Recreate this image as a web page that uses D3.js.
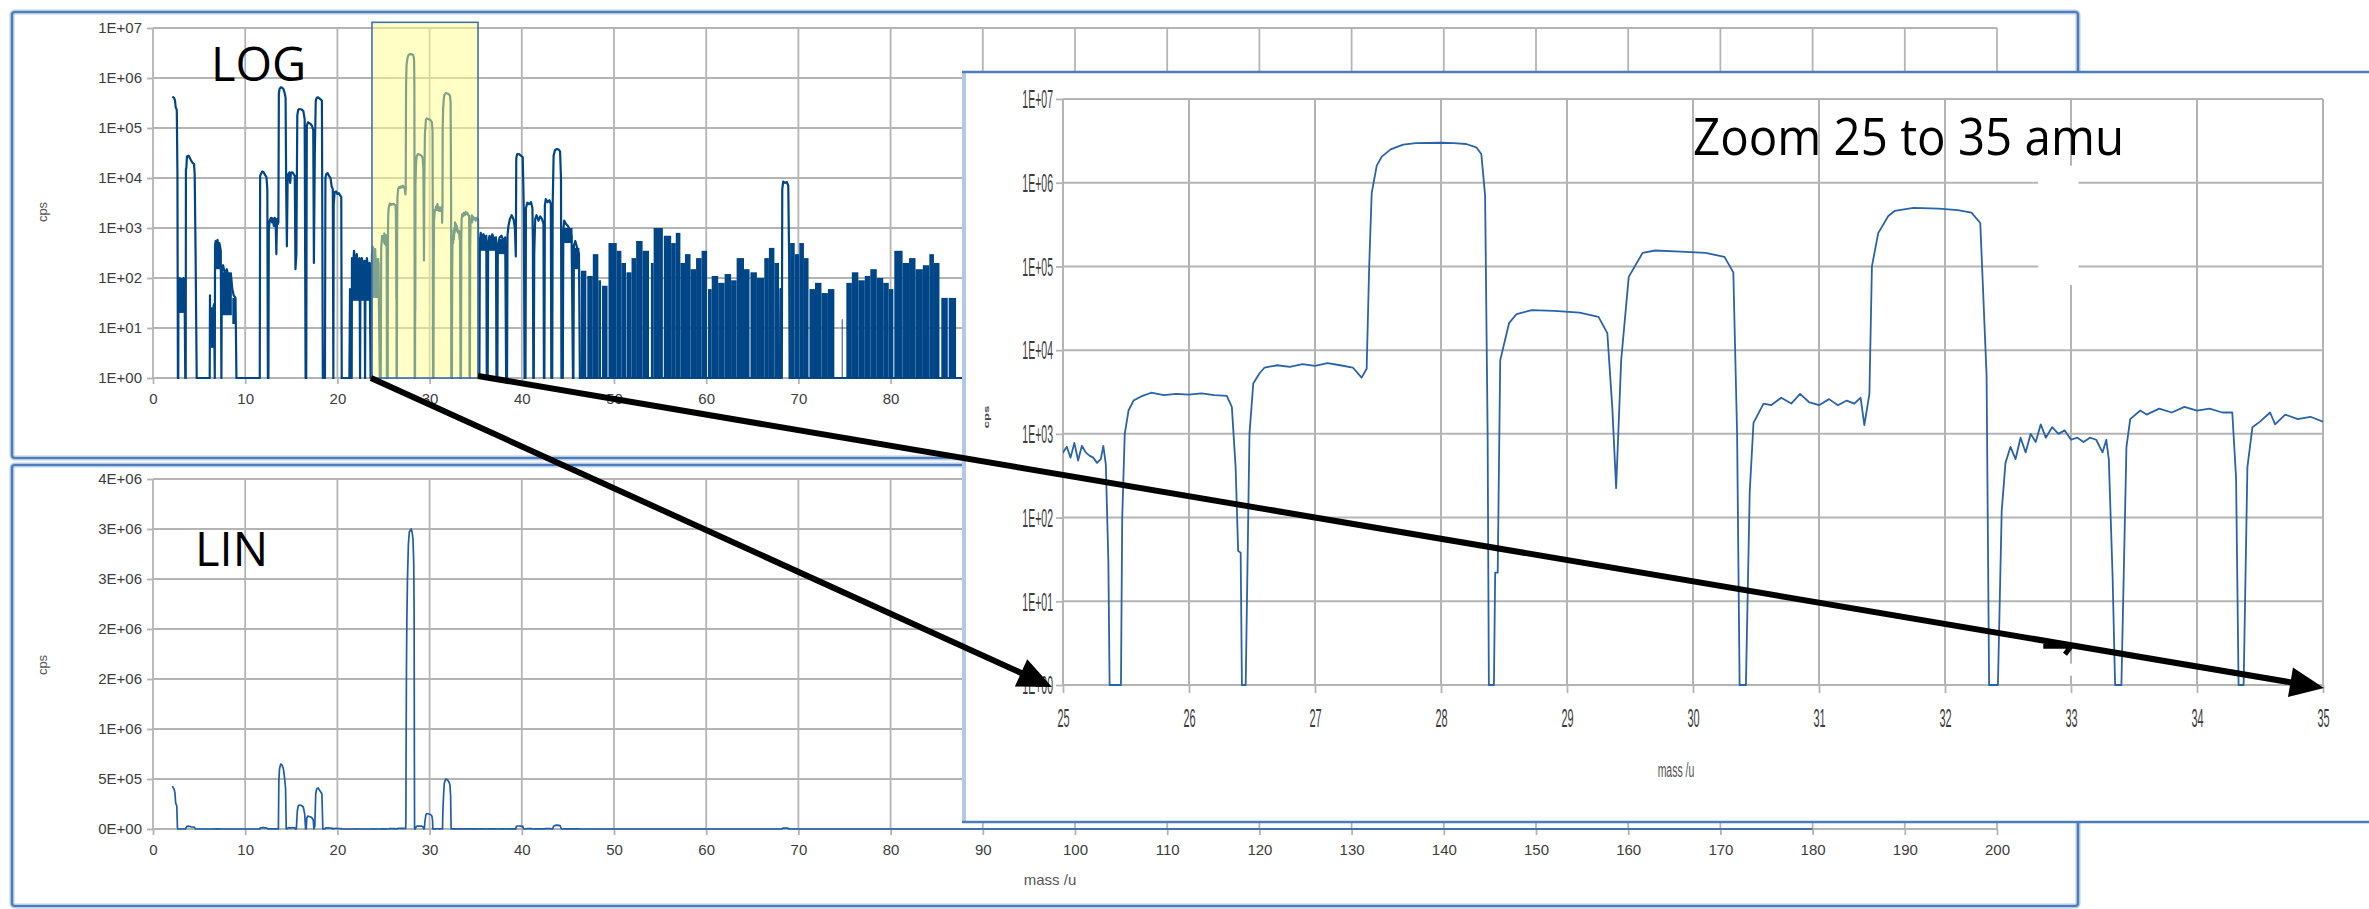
<!DOCTYPE html>
<html>
<head>
<meta charset="utf-8">
<script src="https://cdn.jsdelivr.net/npm/d3@7"></script>
<style>
  body { margin: 0; background: #fff; }
  svg { display: block; }
</style>
</head>
<body>
<svg id="chart" width="2369" height="909"></svg>
<script>
// ---- data ----
// mass scan: [mass (u), counts per second]; 1 cps sits on the bottom of the log axis
const spectrum = [
  [2.12, 4.3e5], [2.2, 4.1e5], [2.28, 4.0e5], [2.38, 3.6e5], [2.46, 2.6e5], [2.58, 2.3e5], [2.65, 1.2e4], [2.7, 1],
  [2.74, 1], [2.76, 90], [2.82, 40], [2.9, 100], [3.0, 60], [3.1, 95], [3.2, 50], [3.3, 100], [3.42, 70], [3.5, 1],
  [3.55, 1], [3.57, 1.5e4], [3.62, 1.6e4], [3.68, 2.7e4], [3.85, 2.8e4], [4.0, 2.5e4], [4.15, 2.2e4], [4.3, 2.0e4],
  [4.45, 1.9e4], [4.52, 1.2e4], [4.62, 300], [4.74, 1],
  [6.15, 1], [6.18, 45], [6.21, 5], [6.3, 25], [6.45, 20], [6.62, 30], [6.7, 1], [6.73, 450], [6.8, 550], [6.9, 400],
  [7.0, 580], [7.1, 420], [7.2, 500], [7.35, 350], [7.42, 1], [7.47, 150], [7.6, 180], [7.8, 120], [8.0, 150],
  [8.2, 110], [8.45, 120], [8.6, 60], [8.75, 45], [8.95, 40], [9.05, 1],
  [11.58, 1], [11.62, 1.1e4], [11.7, 1.2e4], [11.85, 1.35e4], [12.0, 1.3e4], [12.15, 1.15e4], [12.3, 1.05e4],
  [12.4, 6e3], [12.46, 1], [12.52, 1], [12.56, 900], [12.65, 1400], [12.8, 1600], [12.9, 1300], [13.0, 1550],
  [13.1, 1100], [13.2, 1600], [13.3, 1400], [13.38, 300], [13.45, 1500], [13.55, 1200], [13.6, 1300],
  [13.65, 4.8e5], [13.72, 6.0e5], [13.85, 6.5e5], [14.0, 6.4e5], [14.15, 6.0e5], [14.28, 5.0e5], [14.38, 4.0e5],
  [14.45, 5e3], [14.52, 430], [14.6, 8e3], [14.68, 1.2e4], [14.8, 1.3e4], [14.88, 8e3], [14.95, 1.25e4],
  [15.1, 1.3e4], [15.25, 1.2e4], [15.38, 1.1e4], [15.45, 150], [15.55, 300],
  [15.65, 1.8e5], [15.75, 2.3e5], [15.9, 2.4e5], [16.1, 2.35e5], [16.3, 2.2e5], [16.45, 1.5e5], [16.55, 1],
  [16.62, 1], [16.68, 1.1e5], [16.8, 1.3e5], [16.95, 1.25e5], [17.1, 1.2e5], [17.25, 1.1e5], [17.38, 9e4],
  [17.45, 200], [17.55, 3e4], [17.65, 3.5e5], [17.75, 4.0e5], [17.9, 4.1e5], [18.05, 3.9e5], [18.2, 3.7e5],
  [18.32, 3.5e5], [18.42, 1],
  [18.65, 1], [18.7, 1e4], [18.8, 1.2e4], [18.95, 1.25e4], [19.1, 1.1e4], [19.25, 1.0e4], [19.38, 6.8e3],
  [19.5, 6e3], [19.56, 1], [19.6, 3e3], [19.7, 5.2e3], [19.85, 5.4e3], [20.0, 4.8e3], [20.15, 5e3], [20.3, 4.5e3],
  [20.42, 4.2e3], [20.47, 1],
  [21.3, 1], [21.37, 60], [21.42, 1], [21.55, 1], [21.58, 250], [21.7, 150], [21.8, 350], [21.95, 200], [22.1, 300],
  [22.25, 150], [22.4, 250], [22.46, 1], [22.5, 150], [22.65, 250], [22.8, 180], [22.95, 220], [23.0, 1],
  [23.05, 120], [23.2, 250], [23.35, 150], [23.5, 200], [23.6, 1], [23.7, 1], [23.75, 300], [23.85, 420],
  [24.0, 250], [24.1, 380], [24.3, 42], [24.45, 200], [24.6, 1], [24.7, 1], [24.75, 400], [24.85, 700], [24.95, 550],
  // 25 - 35 u
  [25.0, 600], [25.03, 700], [25.06, 520], [25.09, 780], [25.12, 480], [25.15, 720], [25.18, 600], [25.21, 550],
  [25.24, 520], [25.27, 450], [25.3, 500], [25.32, 720], [25.34, 430], [25.36, 30], [25.37, 1], [25.46, 1],
  [25.47, 100], [25.49, 1000], [25.52, 1900], [25.56, 2500], [25.62, 2800], [25.7, 3100], [25.8, 2900],
  [25.9, 3000], [26.0, 2950], [26.1, 3050], [26.2, 2900], [26.3, 2850], [26.34, 2100], [26.37, 400], [26.39, 40],
  [26.41, 38], [26.42, 1], [26.45, 1], [26.48, 1000], [26.51, 4000], [26.56, 5300], [26.6, 6200], [26.7, 6600],
  [26.8, 6300], [26.9, 6800], [27.0, 6500], [27.1, 7000], [27.2, 6600], [27.3, 6200], [27.37, 4700], [27.41, 6000],
  [27.43, 1e5], [27.45, 7.5e5], [27.49, 1.6e6], [27.53, 2.05e6], [27.6, 2.5e6], [27.7, 2.85e6], [27.8, 2.97e6],
  [28.0, 3.0e6], [28.1, 2.97e6], [28.2, 2.9e6], [28.28, 2.65e6], [28.32, 2.2e6], [28.35, 7e5], [28.37, 1e3],
  [28.38, 1], [28.42, 1], [28.43, 22], [28.45, 22], [28.47, 7600], [28.54, 2.1e4], [28.6, 2.7e4], [28.72, 3.0e4],
  [28.9, 2.95e4], [29.1, 2.8e4], [29.25, 2.5e4], [29.32, 1.6e4], [29.36, 2000], [29.39, 225], [29.43, 7600],
  [29.49, 7.5e4], [29.6, 1.45e5], [29.7, 1.55e5], [29.9, 1.5e5], [30.1, 1.45e5], [30.25, 1.3e5], [30.32, 8.5e4],
  [30.35, 1000], [30.37, 1], [30.42, 1], [30.45, 200], [30.48, 1350], [30.56, 2300], [30.62, 2200], [30.7, 2700],
  [30.78, 2300], [30.85, 3000], [30.92, 2400], [31.0, 2200], [31.08, 2600], [31.15, 2200], [31.22, 2500],
  [31.28, 2300], [31.33, 2700], [31.36, 1270], [31.4, 3000], [31.42, 1e5], [31.47, 2.5e5], [31.55, 4.0e5],
  [31.6, 4.6e5], [31.75, 5.0e5], [31.95, 4.9e5], [32.1, 4.7e5], [32.21, 4.4e5], [32.28, 3.3e5], [32.33, 5000],
  [32.35, 1], [32.42, 1], [32.45, 120], [32.48, 450], [32.52, 700], [32.56, 500], [32.6, 900], [32.64, 600],
  [32.68, 1000], [32.72, 800], [32.76, 1300], [32.8, 900], [32.85, 1200], [32.9, 1000], [32.95, 1100], [33.0, 850],
  [33.05, 900], [33.1, 800], [33.15, 900], [33.2, 850], [33.25, 600], [33.28, 850], [33.3, 500], [33.33, 20],
  [33.35, 1], [33.4, 1], [33.44, 700], [33.47, 1500], [33.55, 1900], [33.6, 1700], [33.7, 2000], [33.8, 1800],
  [33.9, 2100], [34.0, 1900], [34.1, 2000], [34.2, 1800], [34.28, 1800], [34.31, 300], [34.33, 1], [34.37, 1],
  [34.4, 400], [34.44, 1200], [34.5, 1400], [34.58, 1800], [34.62, 1300], [34.7, 1700], [34.8, 1500], [34.9, 1600],
  [35.0, 1400], [35.1, 1600], [35.25, 1500], [35.3, 1],
  // 35 - 46 u
  [35.4, 1], [35.45, 500], [35.55, 800], [35.7, 650], [35.85, 750], [36.0, 600], [36.15, 700], [36.2, 1],
  [36.3, 1], [36.35, 500], [36.5, 700], [36.65, 550], [36.8, 750], [37.0, 600], [37.2, 650], [37.25, 1],
  [37.35, 1], [37.4, 450], [37.6, 650], [37.8, 700], [38.0, 550], [38.2, 650], [38.3, 1],
  [38.4, 1], [38.45, 700], [38.55, 1100], [38.7, 1500], [38.9, 1800], [39.1, 1500], [39.25, 1000], [39.35, 270],
  [39.4, 2.5e4], [39.5, 3e4], [39.7, 3e4], [39.9, 2.8e4], [40.1, 2.6e4], [40.18, 5e3], [40.22, 2000], [40.3, 1],
  [40.4, 1], [40.45, 2500], [40.6, 3200], [40.8, 3000], [41.0, 3300], [41.15, 2500], [41.2, 600], [41.25, 1],
  [41.3, 1], [41.35, 300], [41.45, 1500], [41.6, 1800], [41.8, 1400], [42.0, 1700], [42.2, 1500], [42.35, 1200],
  [42.4, 1], [42.45, 1], [42.5, 2800], [42.6, 3800], [42.8, 3300], [43.0, 3600], [43.15, 3000], [43.2, 1],
  [43.3, 1], [43.35, 3e3], [43.45, 2.8e4], [43.6, 3.6e4], [43.8, 3.8e4], [44.0, 3.7e4], [44.15, 3.4e4],
  [44.25, 1e4], [44.3, 1], [44.45, 1], [44.5, 900], [44.6, 1400], [44.8, 1200], [45.0, 1100], [45.2, 900],
  [45.4, 700], [45.55, 1], [45.6, 1], [45.65, 450], [45.8, 550], [46.0, 400], [46.2, 300], [46.3, 1],
  // only the m/z 69 line rises clear of the noise above 46 u
  [68.0, 1], [68.05, 60], [68.12, 1], [68.2, 1], [68.25, 6000], [68.35, 8500], [68.55, 8000], [68.75, 8300],
  [68.9, 7000], [69.0, 200], [69.05, 1], [180, 1]
];

// dense noise blocks on the log trace: [from mass, to mass, top cps, bottom cps]
const noiseBands = [
  [2.76, 3.48, 95, 20], [6.25, 6.65, 25, 4], [6.75, 7.38, 420, 150], [7.47, 8.55, 130, 18], [8.6, 9.0, 40, 12],
  [21.58, 22.42, 200, 35], [22.5, 22.97, 180, 35], [23.05, 23.58, 180, 35], [23.75, 24.55, 250, 40],
  [35.45, 36.15, 650, 350], [36.35, 37.2, 650, 350], [37.4, 38.25, 600, 300], [44.5, 45.5, 1000, 500],
  [45.65, 46.25, 400, 150],
  [46.4, 47.0, 140, 1], [47.1, 47.7, 110, 1], [47.7, 48.3, 300, 1], [48.3, 48.6, 90, 1], [48.7, 49.3, 70, 1],
  [49.4, 50.3, 500, 1], [50.3, 50.8, 350, 1], [50.8, 51.3, 200, 1], [51.35, 51.9, 130, 1], [51.9, 52.4, 250, 1],
  [52.4, 53.1, 550, 1], [53.1, 53.8, 350, 1], [54.0, 54.3, 200, 1], [54.3, 55.3, 1000, 1], [55.4, 56.2, 700, 1],
  [56.2, 56.7, 500, 1], [56.7, 57.2, 800, 1], [57.2, 57.7, 200, 1], [57.7, 58.3, 300, 1], [58.3, 58.9, 150, 1],
  [58.9, 59.5, 250, 1], [59.5, 60.1, 350, 1], [60.2, 60.6, 60, 1], [60.6, 61.3, 110, 1], [61.3, 62.0, 80, 1],
  [62.0, 62.7, 120, 1], [62.7, 63.3, 90, 1], [63.3, 64.1, 250, 1], [64.1, 64.7, 150, 1], [64.8, 65.5, 130, 1],
  [65.5, 66.3, 100, 1], [66.3, 66.8, 250, 1], [66.8, 67.4, 400, 1], [67.4, 67.9, 200, 1], [69.1, 69.6, 500, 1],
  [69.6, 70.1, 300, 1], [70.1, 70.6, 500, 1], [70.6, 71.1, 250, 1], [71.2, 71.8, 60, 1], [71.8, 72.5, 80, 1],
  [72.5, 73.2, 50, 1], [73.2, 73.9, 60, 1], [74.7, 74.8, 15, 1], [75.2, 75.8, 80, 1], [75.8, 76.5, 130, 1],
  [76.5, 77.2, 90, 1], [77.2, 77.8, 110, 1], [77.8, 78.5, 150, 1], [78.5, 79.2, 100, 1], [79.2, 79.8, 80, 1],
  [79.8, 80.3, 60, 1], [80.4, 81.3, 350, 1], [81.3, 82.0, 200, 1], [82.0, 82.7, 250, 1], [82.7, 83.5, 150, 1],
  [83.5, 84.2, 180, 1], [84.2, 84.7, 300, 1], [84.7, 85.3, 200, 1], [85.5, 86.2, 40, 1], [86.3, 87.1, 40, 1]
];

const massTicks = [0, 10, 20, 30, 40, 50, 60, 70, 80, 90, 100, 110, 120, 130, 140, 150, 160, 170, 180, 190, 200];
const zoomMassTicks = [25, 26, 27, 28, 29, 30, 31, 32, 33, 34, 35];
const logTicks = [1, 10, 100, 1e3, 1e4, 1e5, 1e6, 1e7];
const logTickLabels = ["1E+00", "1E+01", "1E+02", "1E+03", "1E+04", "1E+05", "1E+06", "1E+07"];
const linTicks = [0, 5e5, 1e6, 1.5e6, 2e6, 2.5e6, 3e6, 3.5e6];
const linTickLabels = ["0E+00", "5E+05", "1E+06", "2E+06", "2E+06", "3E+06", "3E+06", "4E+06"];
const zoomRange = [23.75, 35.25];   // the highlighted span on the log overview

// ---- layout ----
const LOG = { left: 153, right: 1997, top: 28, bottom: 378 };
const LIN = { left: 153, right: 1997, top: 479, bottom: 829 };
const ZM = { left: 1063, right: 2323, top: 99, bottom: 685 };

const GRID = "#b4b4b4";
const FRAME = "#4a7ebb";
const LABEL_FONT = "'Liberation Sans', Arial, sans-serif";
const TITLE_FONT = "'Open Sans', 'Noto Sans', sans-serif";

const svg = d3.select("#chart");
const defs = svg.append("defs");

const logX = d3.scaleLinear().domain([0, 200]).range([LOG.left, LOG.right]);
const logY = d3.scaleLog().domain([1, 1e7]).range([LOG.bottom, LOG.top]);
const linX = d3.scaleLinear().domain([0, 200]).range([LIN.left, LIN.right]);
const linY = d3.scaleLinear().domain([0, 3.5e6]).range([LIN.bottom, LIN.top]);
const zoomX = d3.scaleLinear().domain([25, 35]).range([ZM.left, ZM.right]);
const zoomY = d3.scaleLog().domain([1, 1e7]).range([ZM.bottom, ZM.top]);

function clip(id, x0, y0, x1, y1) {
  defs.append("clipPath").attr("id", id)
    .append("rect").attr("x", x0).attr("y", y0).attr("width", x1 - x0).attr("height", y1 - y0);
  return `url(#${id})`;
}

function panelFrame(g, x, y, w, h) {
  g.append("rect").attr("x", x).attr("y", y).attr("width", w).attr("height", h).attr("rx", 3)
    .attr("fill", "#fff").attr("stroke", "#b7cbe6").attr("stroke-width", 5);
  g.append("rect").attr("x", x).attr("y", y).attr("width", w).attr("height", h).attr("rx", 3)
    .attr("fill", "none").attr("stroke", FRAME).attr("stroke-width", 2.2);
}

function grid(g, x, y, xTicks, yTicks, width) {
  const [yb, yt] = y.range();
  const [xl, xr] = x.range();
  g.append("g").selectAll("line").data(xTicks).join("line")
    .attr("x1", d => x(d)).attr("x2", d => x(d)).attr("y1", yt).attr("y2", yb)
    .attr("stroke", GRID).attr("stroke-width", width);
  g.append("g").selectAll("line").data(yTicks).join("line")
    .attr("x1", xl).attr("x2", xr).attr("y1", d => y(d)).attr("y2", d => y(d))
    .attr("stroke", GRID).attr("stroke-width", width);
}

function styleAxis(sel, size) {
  sel.select(".domain").remove();
  sel.selectAll(".tick line").attr("stroke", GRID).attr("stroke-width", 1.8);
  sel.selectAll(".tick text").attr("font-family", LABEL_FONT).attr("font-size", size).attr("fill", "#3c3c3c");
}

function yTitle(g, x, y, text) {
  g.append("text").attr("transform", `translate(${x},${y}) rotate(-90)`)
    .attr("text-anchor", "middle").attr("font-family", LABEL_FONT).attr("font-size", 13)
    .attr("fill", "#555").text(text);
}

// ---- LOG overview ----
const gLog = svg.append("g");
panelFrame(gLog, 12, 12, 2066, 446);
grid(gLog, logX, logY, massTicks, logTicks, 1.8);

gLog.append("g").attr("transform", `translate(${LOG.left},0)`)
  .call(d3.axisLeft(logY).tickValues(logTicks).tickFormat((d, i) => logTickLabels[i]).tickSize(6).tickPadding(5))
  .call(styleAxis, 15);
gLog.append("g").attr("transform", `translate(0,${LOG.bottom})`)
  .call(d3.axisBottom(logX).tickValues(massTicks).tickSize(6).tickPadding(9))
  .call(styleAxis, 15);
yTitle(gLog, 47, 212, "cps");

const logClip = clip("logclip", LOG.left, LOG.top - 8, LOG.right, LOG.bottom + 1);
const gLogData = gLog.append("g").attr("clip-path", logClip);
gLogData.selectAll("rect").data(noiseBands).join("rect")
  .attr("x", d => logX(d[0])).attr("width", d => logX(d[1]) - logX(d[0]))
  .attr("y", d => logY(d[2])).attr("height", d => logY(d[3]) - logY(d[2]))
  .attr("fill", "#004586");
gLogData.append("path").datum(spectrum)
  .attr("d", d3.line().x(d => logX(d[0])).y(d => logY(d[1])))
  .attr("fill", "none").attr("stroke", "#004586").attr("stroke-width", 2.2).attr("stroke-linejoin", "round");

gLog.append("text").attr("x", 211).attr("y", 81)
  .attr("font-family", TITLE_FONT).attr("font-size", 47).attr("fill", "#000").text("LOG");

// highlighted span that is blown up on the right
gLog.append("rect")
  .attr("x", logX(zoomRange[0])).attr("width", logX(zoomRange[1]) - logX(zoomRange[0]))
  .attr("y", logY(1.3e7)).attr("height", logY(1) - logY(1.3e7))
  .attr("fill", "#ffff8c").attr("fill-opacity", 0.5)
  .attr("stroke", "#3f71b5").attr("stroke-width", 1.6);

// ---- LIN overview ----
const gLin = svg.append("g");
panelFrame(gLin, 12, 465, 2066, 441);
grid(gLin, linX, linY, massTicks, linTicks, 1.8);

gLin.append("g").attr("transform", `translate(${LIN.left},0)`)
  .call(d3.axisLeft(linY).tickValues(linTicks).tickFormat((d, i) => linTickLabels[i]).tickSize(6).tickPadding(5))
  .call(styleAxis, 15);
gLin.append("g").attr("transform", `translate(0,${LIN.bottom})`)
  .call(d3.axisBottom(linX).tickValues(massTicks).tickSize(6).tickPadding(9))
  .call(styleAxis, 15);
yTitle(gLin, 47, 665, "cps");
gLin.append("text").attr("x", 1050).attr("y", 885).attr("text-anchor", "middle")
  .attr("font-family", LABEL_FONT).attr("font-size", 15).attr("fill", "#555").text("mass /u");

const linClip = clip("linclip", LIN.left, LIN.top - 5, LIN.right, LIN.bottom + 2);
gLin.append("path").datum(spectrum).attr("clip-path", linClip)
  .attr("d", d3.line().x(d => linX(d[0])).y(d => linY(d[1])))
  .attr("fill", "none").attr("stroke", "#1f5ea6").attr("stroke-width", 1.7).attr("stroke-linejoin", "round");

gLin.append("text").attr("x", 195).attr("y", 566)
  .attr("font-family", TITLE_FONT).attr("font-size", 47).attr("fill", "#000").text("LIN");

// ---- zoomed panel, 25 to 35 u ----
const gZ = svg.append("g");
gZ.append("rect").attr("x", 963).attr("y", 72).attr("width", 1420).attr("height", 750).attr("fill", "#fff");
gZ.append("line").attr("x1", 964).attr("x2", 964).attr("y1", 72).attr("y2", 822)
  .attr("stroke", "#b3c8e6").attr("stroke-width", 4);
gZ.append("line").attr("x1", 962).attr("x2", 2369).attr("y1", 72).attr("y2", 72)
  .attr("stroke", FRAME).attr("stroke-width", 2.5);
gZ.append("line").attr("x1", 962).attr("x2", 2369).attr("y1", 822).attr("y2", 822)
  .attr("stroke", FRAME).attr("stroke-width", 2.5);

grid(gZ, zoomX, zoomY, zoomMassTicks, logTicks, 2);

const zyAxis = gZ.append("g").attr("transform", `translate(${ZM.left},0)`)
  .call(d3.axisLeft(zoomY).tickValues(logTicks).tickFormat((d, i) => logTickLabels[i]).tickSize(7))
  .call(styleAxis, 25);
zyAxis.selectAll(".tick text").attr("x", null).attr("dy", "0.35em")
  .attr("transform", "translate(-10,0) scale(0.42,1)");
const zxAxis = gZ.append("g").attr("transform", `translate(0,${ZM.bottom})`)
  .call(d3.axisBottom(zoomX).tickValues(zoomMassTicks).tickSize(8))
  .call(styleAxis, 26);
zxAxis.selectAll(".tick text").attr("y", null).attr("dy", null)
  .attr("transform", "translate(0,42) scale(0.42,1)");

gZ.append("text").attr("transform", "translate(1676,777) scale(0.5,1)").attr("text-anchor", "middle")
  .attr("font-family", LABEL_FONT).attr("font-size", 21).attr("fill", "#555").text("mass /u");
gZ.append("text").attr("transform", "translate(989,417) scale(0.6,1) rotate(-90)").attr("text-anchor", "middle")
  .attr("font-family", LABEL_FONT).attr("font-size", 13).attr("font-weight", "bold").attr("fill", "#444").text("cps");

const zClip = clip("zclip", ZM.left, ZM.top - 4, ZM.right, ZM.bottom + 1);
gZ.append("path").datum(spectrum.filter(d => d[0] >= 24.9 && d[0] <= 35.35)).attr("clip-path", zClip)
  .attr("d", d3.line().x(d => zoomX(d[0])).y(d => zoomY(d[1])))
  .attr("fill", "none").attr("stroke", "#2a63a6").attr("stroke-width", 1.8).attr("stroke-linejoin", "round");

// white patches left over from the pasted picture
gZ.append("rect").attr("x", zoomX(32.74)).attr("y", zoomY(1.6e6)).attr("width", zoomX(33.06) - zoomX(32.74))
  .attr("height", zoomY(6e4) - zoomY(1.6e6)).attr("fill", "#fff");
gZ.append("rect").attr("x", zoomX(32.74)).attr("y", zoomY(1.8)).attr("width", zoomX(33.06) - zoomX(32.74))
  .attr("height", 12).attr("fill", "#fff");
gZ.append("path")
  .attr("d", `M${zoomX(32.78)},${zoomY(2.9)} H${zoomX(33.0)} l-6,8`)
  .attr("fill", "none").attr("stroke", "#000").attr("stroke-width", 5);

gZ.append("text").attr("x", 1693).attr("y", 155)
  .attr("font-family", TITLE_FONT).attr("font-size", 52).attr("fill", "#000")
  .attr("textLength", 431).attr("lengthAdjust", "spacingAndGlyphs").text("Zoom 25 to 35 amu");

// ---- arrows from the highlighted span to the zoomed axis ----
const arrows = [
  [[logX(zoomRange[0]) - 1, logY(1)], [zoomX(25) - 11, zoomY(1) + 2]],
  [[logX(zoomRange[1]), logY(1) - 2], [zoomX(35) + 1, zoomY(1) + 3]]
];
const gA = svg.append("g");
arrows.forEach(([a, b]) => {
  const dx = b[0] - a[0], dy = b[1] - a[1];
  const len = Math.hypot(dx, dy);
  const ux = dx / len, uy = dy / len;
  const headL = 34, headW = 15;
  const bx = b[0] - ux * headL, by = b[1] - uy * headL;
  gA.append("line").attr("x1", a[0]).attr("y1", a[1]).attr("x2", bx + ux * 2).attr("y2", by + uy * 2)
    .attr("stroke", "#000").attr("stroke-width", 6);
  gA.append("path")
    .attr("d", `M${b[0]},${b[1]} L${bx - uy * headW},${by + ux * headW} L${bx + uy * headW},${by - ux * headW} Z`)
    .attr("fill", "#000");
});
</script>
</body>
</html>
